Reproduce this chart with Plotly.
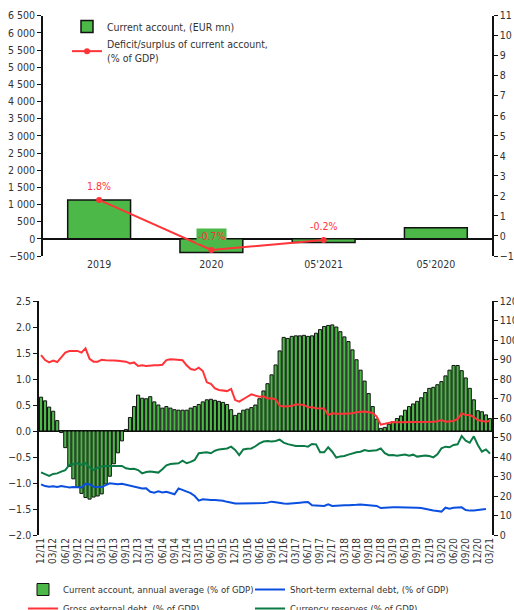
import pandas as pd
import plotly.graph_objects as go

# top panel: annual current account
top_cats = ['2019', '2020', "05'2021", "05'2020"]
ca_eur_mn = [1130, -400, -110, 320]
ca_pct_gdp = [1.8, -0.7, -0.2, None]
ca_pct_text = ['1.8%', '-0.7%', '-0.2%']

# bottom panel: monthly series, 12/11 .. 03/21
months = pd.date_range('2011-12-01', periods=112, freq='MS').strftime('%m/%y').tolist()
tick_months = months[::3]

ca_annual_avg = [
    0.65, 0.58, 0.46, 0.38, 0.20, -0.03, -0.32, -0.68, -0.92, -1.08,
    -1.20, -1.28, -1.31, -1.27, -1.25, -1.21, -1.02, -0.87, -0.63, -0.42,
    -0.19, 0.03, 0.26, 0.47, 0.69, 0.63, 0.62, 0.66, 0.56, 0.50,
    0.44, 0.47, 0.44, 0.41, 0.40, 0.40, 0.40, 0.44, 0.47, 0.51,
    0.56, 0.60, 0.61, 0.59, 0.57, 0.55, 0.51, 0.41, 0.30, 0.34,
    0.40, 0.42, 0.45, 0.50, 0.62, 0.77, 0.91, 1.08, 1.27, 1.54,
    1.80, 1.78, 1.82, 1.83, 1.83, 1.84, 1.82, 1.83, 1.88, 1.95,
    2.01, 2.03, 2.04, 2.00, 1.91, 1.81, 1.72, 1.56, 1.37, 1.17,
    0.96, 0.72, 0.47, 0.23, 0.05, 0.07, 0.13, 0.18, 0.24, 0.29,
    0.40, 0.47, 0.52, 0.57, 0.64, 0.74, 0.82, 0.84, 0.89, 0.95,
    1.06, 1.17, 1.26, 1.26, 1.16, 1.02, 0.82, 0.60, 0.39, 0.37,
    0.31, 0.24,
]
gross_ext_debt = [
    92.3, 89.7, 88.5, 89.4, 88.7, 90.9, 93.5, 94.3, 94.5, 94.4,
    93.5, 95.7, 90.3, 88.9, 88.9, 89.9, 89.6, 89.7, 89.5, 89.4,
    89.2, 88.9, 88.0, 88.5, 86.7, 87.0, 86.7, 87.0, 87.0, 87.1,
    87.3, 89.7, 90.1, 90.0, 89.9, 89.6, 87.0, 85.1, 84.6, 85.8,
    84.1, 78.3, 77.5, 75.2, 74.4, 74.0, 73.8, 74.9, 69.2, 68.4,
    69.8, 70.9, 72.1, 71.5, 70.9, 71.1, 70.0, 70.1, 69.5, 66.3,
    65.9, 66.0, 66.1, 67.0, 66.8, 66.7, 65.5, 65.5, 65.0, 64.8,
    64.9, 61.5, 62.4, 62.2, 62.1, 62.2, 62.3, 62.4, 62.9, 63.0,
    63.3, 63.0, 62.6, 60.7, 56.6, 57.0, 57.4, 57.9, 57.8, 57.8,
    58.1, 58.0, 57.8, 57.8, 57.9, 58.0, 58.1, 58.1, 58.3, 59.0,
    58.1, 58.3, 58.5, 59.5, 62.4, 61.5, 61.5, 60.5, 59.0, 58.5,
    58.1, 58.6,
]
reserves = [
    32.1, 31.1, 30.3, 31.3, 31.6, 32.5, 33.3, 35.9, 36.4, 36.8,
    36.1, 36.8, 34.7, 33.3, 34.5, 35.2, 35.4, 35.4, 35.6, 35.7,
    35.4, 34.2, 33.8, 34.0, 33.3, 31.6, 32.3, 32.6, 32.4, 32.0,
    33.7, 35.7, 36.4, 36.6, 36.8, 38.1, 36.8, 37.5, 38.5, 41.9,
    42.2, 42.4, 41.9, 43.2, 43.9, 44.2, 44.4, 45.3, 43.6, 41.0,
    43.9, 44.2, 44.4, 45.5, 47.0, 47.9, 48.2, 47.9, 48.2, 48.9,
    47.4, 46.6, 46.0, 45.6, 45.6, 45.7, 45.3, 46.7, 46.5, 42.4,
    42.4, 45.0, 42.7, 39.7, 40.3, 40.5, 41.2, 41.9, 42.4, 42.7,
    43.6, 43.1, 43.3, 43.5, 44.4, 42.0, 40.9, 41.0, 40.7, 41.0,
    41.3, 40.7, 41.2, 40.2, 40.5, 40.7, 40.5, 39.8, 41.4, 44.4,
    45.3, 45.0, 46.2, 46.5, 50.8, 48.4, 47.3, 50.6, 46.2, 42.7,
    43.9, 41.7,
]
short_term_debt = [
    26.0, 25.1, 24.8, 25.0, 24.6, 25.1, 24.8, 24.4, 24.6, 24.5,
    24.4, 26.2, 26.0, 24.8, 24.6, 24.6, 25.6, 26.5, 26.3, 26.0,
    26.3, 25.8, 25.5, 24.8, 24.3, 23.8, 23.9, 22.2, 21.7, 22.4,
    21.8, 22.2, 21.5, 20.9, 23.9, 23.1, 22.7, 21.5, 20.0, 17.6,
    18.3, 18.0, 17.9, 17.9, 17.8, 17.6, 17.0, 16.6, 16.2, 16.2,
    16.2, 16.4, 16.4, 16.2, 16.2, 16.4, 16.6, 17.1, 16.8, 16.4,
    16.2, 16.0, 16.1, 16.2, 16.6, 16.8, 16.9, 15.2, 15.2, 15.2,
    14.9, 15.7, 14.9, 15.0, 15.2, 15.2, 15.2, 15.2, 15.5, 15.7,
    15.5, 15.5, 15.4, 14.9, 13.8, 14.0, 14.2, 14.2, 14.2, 14.2,
    14.2, 14.2, 14.2, 14.0, 13.8, 13.3, 12.8, 12.6, 12.3, 12.0,
    14.0, 13.5, 14.0, 14.2, 14.2, 12.8, 12.5, 12.6, 12.8, 13.0,
    13.3, None,
]

GREEN = '#4cb848'
RED = '#ff3338'
BLUE = '#0a4fe0'
DKGREEN = '#0b7a45'
FONT = 'DejaVu Sans Condensed, Roboto, sans-serif'

W, H = 514, 610


def px_x(x):
    return x / W


def px_y(y):
    return 1 - y / H


fig = go.Figure()

# --- top chart
fig.add_trace(go.Bar(x=top_cats, y=ca_eur_mn, name='Current account, (EUR mn)',
                     marker=dict(color=GREEN, line=dict(color='#111', width=1.5)),
                     width=0.56, xaxis='x', yaxis='y', legend='legend'))
fig.add_trace(go.Scatter(x=top_cats, y=ca_pct_gdp,
                         name='Deficit/surplus of current account,<br>(% of GDP)',
                         mode='lines+markers', line=dict(color=RED, width=2),
                         marker=dict(size=6, color=RED),
                         xaxis='x', yaxis='y2', legend='legend'))

# data labels (x given as category index so '2019' is not read as a number)
for i, t in enumerate(ca_pct_text):
    fig.add_annotation(x=i, y=ca_pct_gdp[i], xref='x', yref='y2', text=t,
                       showarrow=False, yshift=14,
                       font=dict(color=RED, size=10.5, family=FONT),
                       bgcolor=GREEN if ca_eur_mn[i] < -200 else 'rgba(0,0,0,0)',
                       borderpad=1)

# --- bottom chart
fig.add_trace(go.Bar(x=months, y=ca_annual_avg,
                     name='Current account, annual average (% of GDP)',
                     marker=dict(color=GREEN, line=dict(color='#111', width=1)),
                     width=0.78, xaxis='x3', yaxis='y3', legend='legend2', legendrank=1))
fig.add_trace(go.Scatter(x=months, y=reserves, name='Currency reserves (% of GDP)',
                         mode='lines', line=dict(color=DKGREEN, width=2),
                         xaxis='x3', yaxis='y4', legend='legend2', legendrank=4))
fig.add_trace(go.Scatter(x=months, y=short_term_debt, name='Short-term external debt, (% of GDP)',
                         mode='lines', line=dict(color=BLUE, width=2),
                         xaxis='x3', yaxis='y4', legend='legend2', legendrank=2))
fig.add_trace(go.Scatter(x=months, y=gross_ext_debt, name='Gross external debt, (% of GDP)',
                         mode='lines', line=dict(color=RED, width=2),
                         xaxis='x3', yaxis='y4', legend='legend2', legendrank=3))

tick_font = dict(family=FONT, size=10.5, color='#333')
axis_line = dict(showline=True, linecolor='#111', linewidth=1.5, showgrid=False,
                 ticks='outside', ticklen=4, tickcolor='#111', tickfont=tick_font)

top_y0, top_y1 = px_y(256), px_y(15.7)
bot_y0, bot_y1 = px_y(535), px_y(301)
zero_pos = bot_y0 + (0 - (-2.0)) / 4.5 * (bot_y1 - bot_y0)

fig.update_layout(
    width=W, height=H,
    margin=dict(l=0, r=0, t=0, b=0, autoexpand=False),
    paper_bgcolor='white', plot_bgcolor='white',
    font=dict(family=FONT, size=10.5, color='#333'),
    separators='. ',
    barmode='overlay',
    showlegend=True,
    xaxis=dict(domain=[px_x(43), px_x(492)], anchor='y', type='category',
               showline=False, ticks='', showgrid=False, tickfont=tick_font,
               range=[-0.5, 3.5]),
    yaxis=dict(domain=[top_y0, top_y1], anchor='x', range=[-500, 6500], dtick=500,
               separatethousands=True, zeroline=True, zerolinecolor='#111',
               zerolinewidth=1.5, **axis_line),
    yaxis2=dict(overlaying='y', side='right', anchor='x', range=[-1, 11], dtick=1,
                zeroline=False, **axis_line),
    xaxis3=dict(domain=[px_x(39), px_x(492)], anchor='y3', type='category',
                showline=False, ticks='', showgrid=False, tickmode='array',
                tickvals=tick_months, ticktext=tick_months, tickangle=-90,
                tickfont=dict(family=FONT, size=10, color='#333'),
                range=[-0.5, len(months) - 0.5]),
    xaxis4=dict(overlaying='x3', anchor='free', position=zero_pos, type='linear',
                range=[-0.5, len(months) - 0.5], tick0=-0.5, dtick=1,
                showticklabels=False, showline=False, ticks='outside', ticklen=5,
                tickcolor='#111', showgrid=False, zeroline=False),
    yaxis3=dict(domain=[bot_y0, bot_y1], anchor='x3', range=[-2.0, 2.5], dtick=0.5,
                tickformat='.1f', zeroline=True, zerolinecolor='#111',
                zerolinewidth=1.5, **axis_line),
    yaxis4=dict(overlaying='y3', side='right', anchor='x3', range=[0, 120], dtick=10,
                zeroline=False, **axis_line),
    legend=dict(x=px_x(67), y=px_y(12), xanchor='left', yanchor='top',
                bgcolor='rgba(0,0,0,0)', font=dict(family=FONT, size=10.5, color='#333'),
                tracegroupgap=2),
    legend2=dict(orientation='h', x=px_x(23), y=px_y(575), xanchor='left', yanchor='top',
                 entrywidth=182, entrywidthmode='pixels', traceorder='normal',
                 bgcolor='rgba(0,0,0,0)', font=dict(family=FONT, size=9.5, color='#333')),
)

fig.write_html('out.html', config={'displayModeBar': False},
               post_script="document.body.style.margin='0';")
